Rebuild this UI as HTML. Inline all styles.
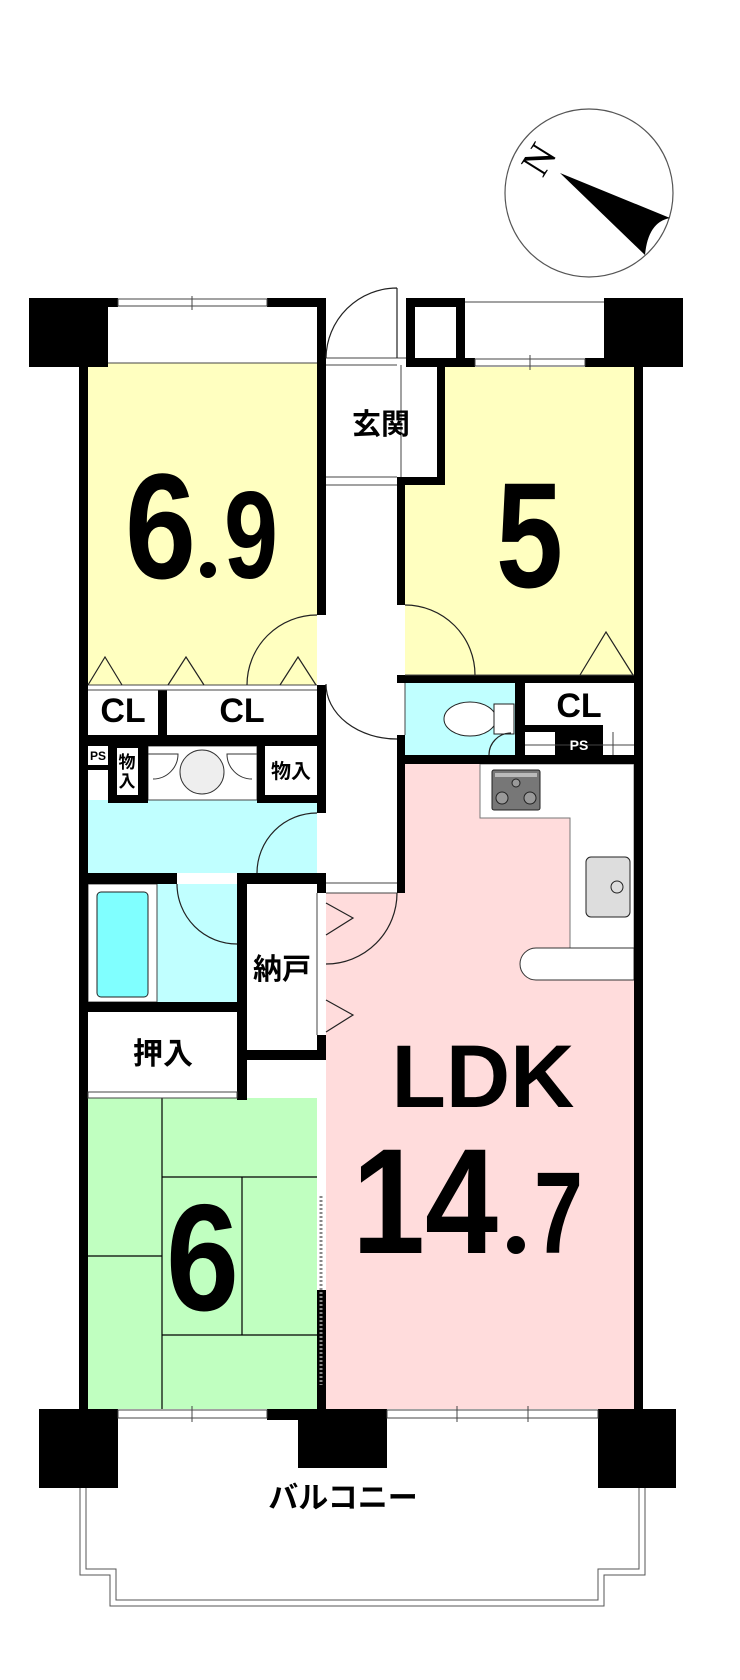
<!DOCTYPE html>
<html><head><meta charset="utf-8"><style>
html,body{margin:0;padding:0;background:#fff;}
svg{display:block;}
.j{font-family:"Liberation Sans","Noto Sans CJK JP",sans-serif;font-weight:bold;}
.n{font-family:"Liberation Sans",sans-serif;font-weight:bold;}
</style></head><body>
<svg width="740" height="1680" viewBox="0 0 740 1680" xmlns="http://www.w3.org/2000/svg">
<rect width="740" height="1680" fill="#fff"/>

<circle cx="589" cy="193" r="84" fill="#fff" stroke="#555" stroke-width="1.2"/>
<text x="540" y="172" font-family="Liberation Serif,serif" font-size="40" transform="rotate(-58 540 160)" text-anchor="middle">N</text>
<path d="M560,173 L670,218 Q648,222 645,255 Z" fill="#000"/>

<rect x="88" y="363" width="229" height="322" fill="#ffffc0"/>
<rect x="445" y="367" width="189" height="118" fill="#ffffc0"/>
<rect x="405" y="485" width="229" height="190" fill="#ffffc0"/>
<rect x="405" y="683" width="110" height="72" fill="#c0ffff"/>
<rect x="88" y="800" width="229" height="73" fill="#c0ffff"/>
<rect x="157" y="884" width="80" height="118" fill="#c0ffff"/>
<rect x="405" y="764" width="229" height="645" fill="#ffdcdc"/>
<rect x="326" y="893" width="80" height="516" fill="#ffdcdc"/>
<rect x="88" y="1098" width="229" height="311" fill="#c0ffc0"/>

<g stroke="#000" stroke-width="1.2">
<line x1="162" y1="1098" x2="162" y2="1409"/>
<line x1="88" y1="1256" x2="162" y2="1256"/>
<line x1="162" y1="1177" x2="317" y2="1177"/>
<line x1="162" y1="1335" x2="317" y2="1335"/>
<line x1="242" y1="1177" x2="242" y2="1335"/>
</g>

<path d="M480,764 H634 V948 H570 V818 H480 Z" fill="#fff" stroke="#777" stroke-width="1"/>
<path d="M536,948 H634 V980 H536 A16,16 0 0 1 536,948 Z" fill="#fff" stroke="#333" stroke-width="1"/>
<rect x="492" y="770" width="48" height="40" rx="2" fill="#777" stroke="#222"/>
<rect x="495" y="773" width="42" height="4" fill="#bbb"/>
<circle cx="502" cy="798" r="6" fill="#999" stroke="#222"/><circle cx="530" cy="798" r="6" fill="#999" stroke="#222"/><circle cx="516" cy="783" r="4" fill="#999" stroke="#222"/>
<rect x="586" y="857" width="44" height="60" rx="5" fill="#ddd" stroke="#222"/>
<circle cx="617" cy="887" r="6" fill="#ddd" stroke="#222"/>

<ellipse cx="470" cy="719" rx="26" ry="17" fill="#fff" stroke="#222"/>
<rect x="494" y="704" width="20" height="30" fill="#fff" stroke="#222"/>

<rect x="88" y="884" width="69" height="118" fill="#fff" stroke="#444"/>
<rect x="97" y="892" width="51" height="105" rx="4" fill="#80ffff" stroke="#222"/>

<rect x="148" y="746" width="109" height="54" fill="#fff" stroke="#444"/>
<circle cx="202" cy="772" r="22" fill="#eee" stroke="#333"/>
<path d="M148,754 H178 A25,25 0 0 1 153,779" fill="none" stroke="#333"/>
<path d="M257,754 H227 A25,25 0 0 0 252,779" fill="none" stroke="#333"/>

<g fill="#000">
<rect x="29" y="298" width="79" height="69"/>
<rect x="108" y="298" width="10" height="9"/>
<rect x="267" y="298" width="59" height="9"/>
<rect x="79" y="367" width="9" height="1042"/>
<rect x="317" y="298" width="9" height="317"/>
<rect x="317" y="685" width="9" height="128"/>
<rect x="317" y="873" width="9" height="20"/>
<rect x="317" y="1035" width="9" height="25"/>
<rect x="317" y="1290" width="9" height="119"/>
<rect x="406" y="298" width="59" height="69"/>
<rect x="415" y="307" width="41" height="51" fill="#fff"/>
<rect x="465" y="358" width="10" height="9"/>
<rect x="585" y="358" width="20" height="9"/>
<rect x="604" y="298" width="79" height="69"/>
<rect x="437" y="367" width="8" height="118"/>
<rect x="397" y="477" width="48" height="8"/>
<rect x="397" y="477" width="8" height="128"/>
<rect x="634" y="367" width="9" height="1042"/>
<rect x="397" y="675" width="246" height="8"/>
<rect x="397" y="735" width="8" height="20"/>
<rect x="515" y="675" width="10" height="80"/>
<rect x="515" y="725" width="88" height="7"/>
<rect x="555" y="725" width="48" height="30"/>
<rect x="397" y="755" width="246" height="9"/>
<rect x="397" y="764" width="8" height="129"/>
<rect x="79" y="735" width="247" height="11"/>
<rect x="158" y="690" width="9" height="45"/>
<rect x="108" y="746" width="40" height="57"/>
<rect x="257" y="746" width="8" height="57"/>
<rect x="257" y="795" width="69" height="8"/>
<rect x="88" y="765" width="20" height="5"/>
<rect x="79" y="873" width="98" height="11"/>
<rect x="237" y="873" width="89" height="11"/>
<rect x="79" y="1002" width="168" height="10"/>
<rect x="237" y="873" width="10" height="227"/>
<rect x="237" y="1050" width="89" height="10"/>
<rect x="39" y="1409" width="79" height="79"/>
<rect x="267" y="1409" width="31" height="11"/>
<rect x="298" y="1409" width="89" height="59"/>
<rect x="598" y="1409" width="78" height="79"/>
</g>
<rect x="117" y="748" width="21" height="47" fill="#fff"/>
<rect x="265" y="746" width="52" height="49" fill="#fff"/>
<rect x="88" y="746" width="20" height="19" fill="#fff"/>

<g stroke="#444" stroke-width="1" fill="#fff">
<rect x="118" y="299" width="149" height="7"/>
<rect x="475" y="359" width="110" height="7"/>
<rect x="118" y="1410" width="149" height="8"/>
<rect x="387" y="1410" width="211" height="8"/>
<rect x="88" y="1092" width="149" height="6"/>
</g>
<g stroke="#444" stroke-width="1">
<line x1="192" y1="296" x2="192" y2="310"/><line x1="530" y1="355" x2="530" y2="370"/>
<line x1="192" y1="1406" x2="192" y2="1422"/><line x1="457" y1="1406" x2="457" y2="1422"/><line x1="528" y1="1406" x2="528" y2="1422"/>
<line x1="465" y1="302" x2="604" y2="302"/>
<line x1="108" y1="363" x2="317" y2="363"/>
<line x1="326" y1="358" x2="406" y2="358"/><line x1="326" y1="365" x2="397" y2="365"/>
<line x1="401" y1="365" x2="401" y2="477"/>
<line x1="326" y1="477" x2="397" y2="477"/><line x1="326" y1="485" x2="397" y2="485"/>
<line x1="88" y1="685" x2="317" y2="685"/><line x1="88" y1="690" x2="317" y2="690"/>
<line x1="405" y1="675" x2="634" y2="675"/>
<line x1="326" y1="883" x2="397" y2="883"/><line x1="326" y1="893" x2="397" y2="893"/>
<line x1="317" y1="893" x2="317" y2="1035"/>
<line x1="525" y1="745" x2="634" y2="745"/><line x1="613" y1="732" x2="613" y2="755"/>
<line x1="405" y1="735" x2="405" y2="683"/>
</g>
<line x1="321" y1="1196" x2="321" y2="1385" stroke="#888" stroke-width="3" stroke-dasharray="2,2"/>

<g fill="none" stroke="#222" stroke-width="1.2">
<path d="M397,288 V358 M397,288 A71,71 0 0 0 326,358"/>
<path d="M317,615 A70,70 0 0 0 247,685"/>
<path d="M405,605 A70,70 0 0 1 475,675"/>
<path d="M317,813 A60,60 0 0 0 257,873"/>
<path d="M177,884 A60,60 0 0 0 237,944"/>
<path d="M397,893 A71,71 0 0 1 326,964"/>
<path d="M326,684 A71,55 0 0 0 397,739"/>
<path d="M489,755 A22,22 0 0 1 511,733"/>
<path d="M326,903 L353,918 L326,935"/>
<path d="M326,1000 L353,1015 L326,1032"/>
<path d="M88,685 L105,657 L122,685"/>
<path d="M168,685 L186,657 L204,685"/>
<path d="M280,685 L298,657 L316,685"/>
<path d="M580,675 L606,632 L633,675"/>
</g>

<g fill="none" stroke="#555" stroke-width="1">
<path d="M80,1488 V1575 H110 V1606 H604 V1575 H645 V1488"/>
<path d="M86,1488 V1569 H116 V1600 H598 V1569 H639 V1488"/>
</g>

<text x="125" y="578" class="n" font-size="150" textLength="71" lengthAdjust="spacingAndGlyphs">6</text>
<circle cx="208" cy="570" r="8" fill="#000"/>
<text x="224" y="578" class="n" font-size="124" textLength="54" lengthAdjust="spacingAndGlyphs">9</text>
<text x="496" y="587" class="n" font-size="150" textLength="67" lengthAdjust="spacingAndGlyphs">5</text>
<text x="166" y="1310" class="n" font-size="152" textLength="73" lengthAdjust="spacingAndGlyphs">6</text>
<text x="483" y="1107" class="n" font-size="89" text-anchor="middle">LDK</text>
<text x="352" y="1253" class="n" font-size="150" textLength="146" lengthAdjust="spacingAndGlyphs">14</text>
<circle cx="516" cy="1245" r="9" fill="#000"/>
<text x="534" y="1253" class="n" font-size="116" textLength="49" lengthAdjust="spacingAndGlyphs">7</text>

<text x="123" y="722" class="n" font-size="34" text-anchor="middle">CL</text>
<text x="242" y="722" class="n" font-size="34" text-anchor="middle">CL</text>
<text x="579" y="717" class="n" font-size="34" text-anchor="middle">CL</text>
<text x="98" y="760" class="n" font-size="12" text-anchor="middle">PS</text>
<text x="579" y="750" class="n" font-size="14" fill="#fff" text-anchor="middle">PS</text>
<text x="127" y="768" class="j" font-size="17" text-anchor="middle">物</text>
<text x="127" y="787" class="j" font-size="17" text-anchor="middle">入</text>
<text x="291" y="778" class="j" font-size="20" text-anchor="middle">物入</text>
<text x="381" y="434" class="j" font-size="29" text-anchor="middle">玄関</text>
<text x="282" y="979" class="j" font-size="29" text-anchor="middle">納戸</text>
<text x="163" y="1064" class="j" font-size="30" text-anchor="middle">押入</text>
<text x="343" y="1508" class="j" font-size="30" text-anchor="middle">バルコニー</text>
</svg>
</body></html>
